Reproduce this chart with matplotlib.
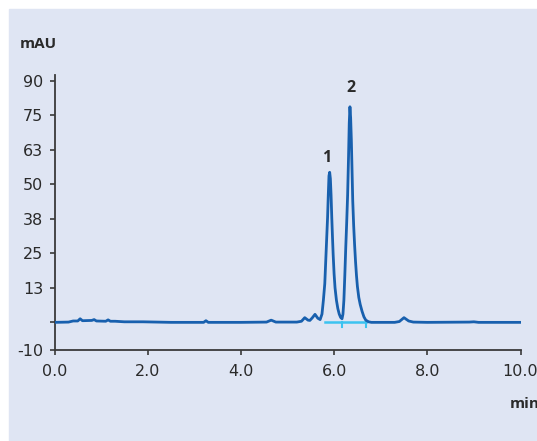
import matplotlib.pyplot as plt
from matplotlib.patches import Rectangle

# chromatogram (time in min, signal in mAU)
time_min = [0.0, 0.3, 0.4, 0.5, 0.55, 0.6, 0.8, 0.85, 0.9, 1.1, 1.15, 1.2, 1.3,
            1.5, 1.9, 2.5, 3.2, 3.25, 3.3, 4.0, 4.55, 4.65, 4.75, 5.2, 5.3,
            5.37, 5.44, 5.48, 5.53, 5.59, 5.65, 5.70,
            5.74, 5.77, 5.80, 5.82, 5.84, 5.86, 5.875, 5.89, 5.905, 5.92,
            5.935, 5.95, 5.965, 5.98, 6.00, 6.02, 6.05, 6.08, 6.11, 6.14, 6.17,
            6.19, 6.21, 6.23, 6.25, 6.27, 6.29, 6.31, 6.325, 6.34, 6.355, 6.37,
            6.385, 6.40, 6.42, 6.44, 6.46, 6.48, 6.50, 6.53, 6.56, 6.60, 6.64,
            6.68, 6.74, 6.80,
            7.3, 7.4, 7.5, 7.6, 7.7, 8.0, 8.9, 9.0, 9.1, 10.0]
signal = [0.0, 0.1, 0.5, 0.5, 1.3, 0.6, 0.7, 1.0, 0.5, 0.4, 0.9, 0.4, 0.4,
          0.2, 0.2, 0.0, 0.0, 0.6, 0.0, 0.0, 0.1, 0.8, 0.1, 0.1, 0.4,
          1.7, 0.8, 0.7, 1.6, 2.9, 1.5, 1.0,
          3.0, 8.0, 14.0, 22.0, 30.0, 38.0, 46.0, 53.0, 54.3, 52.0,
          46.0, 38.0, 31.0, 24.5, 17.5, 12.5, 8.0, 5.0, 3.0, 1.8, 1.3,
          3.0, 8.0, 17.0, 27.0, 36.0, 46.0, 60.0, 72.0, 78.0, 74.0, 66.0,
          55.0, 44.0, 35.0, 28.0, 22.0, 17.0, 13.0, 9.0, 6.5, 4.0, 2.0,
          0.8, 0.2, 0.0,
          0.0, 0.3, 1.7, 0.5, 0.1, 0.0, 0.1, 0.2, 0.0, 0.0]

# integration baseline and its drop marks
base_t = [5.80, 6.68]
base_y = [0.0, 0.0]
drop_t = [6.17, 6.68]

peak_labels = ["1", "2"]
peak_label_t = [5.85, 6.36]
peak_label_y = [59.4, 84.8]

yticks = [-10, 0, 12.5, 25, 37.5, 50, 62.5, 75, 87.5]
ytick_labels = ["-10", "", "13", "25", "38", "50", "63", "75", "90"]
xticks = [0, 2, 4, 6, 8, 10]
xtick_labels = ["0.0", "2.0", "4.0", "6.0", "8.0", "10.0"]

plt.rcParams["font.family"] = ["Open Sans", "DejaVu Sans"]

W, H = 537, 441
fig = plt.figure(figsize=(W / 100, H / 100), dpi=100)
fig.patch.set_facecolor("white")
fig.patches.append(Rectangle((9 / W, 0), 1 - 9 / W, 1 - 9 / H,
                             transform=fig.transFigure, color="#dfe5f3",
                             zorder=-10))

ax = fig.add_axes([54.5 / W, 1 - 350 / H, 466 / W, 275 / H])
ax.set_facecolor("none")
ax.set_zorder(5)

ax.plot(base_t, base_y, color="#3cc3f0", lw=1.8, zorder=2)
for t in drop_t:
    ax.plot([t, t], [0, -1.6], color="#3cc3f0", lw=1.5, zorder=2)
ax.plot(time_min, signal, color="#1860ae", lw=2.0, solid_joinstyle="round",
        zorder=3)

for lab, t, y in zip(peak_labels, peak_label_t, peak_label_y):
    ax.text(t, y, lab, ha="center", va="center", fontsize=11.5,
            fontweight="bold", color="#2a2a2a")

ax.set_xlim(0, 10)
ax.set_ylim(-10, 89.5)
ax.set_xticks(xticks)
ax.set_xticklabels(xtick_labels)
ax.set_yticks(yticks)
ax.set_yticklabels(ytick_labels)

for side in ["top", "right"]:
    ax.spines[side].set_visible(False)
for side in ["left", "bottom"]:
    ax.spines[side].set_color("#3a3a3a")
    ax.spines[side].set_linewidth(1.3)
ax.tick_params(direction="out", length=3.6, width=1.2, color="#3a3a3a",
               labelsize=11.5, labelcolor="#2a2a2a")
ax.tick_params(axis="x", pad=6.5)
ax.tick_params(axis="y", pad=4.5)
for lab in ax.get_xticklabels() + ax.get_yticklabels():
    lab.set_family("DejaVu Sans")

fig.text(20 / W, 1 - 48 / H, "mAU", fontsize=11, fontweight="bold",
         color="#2a2a2a", va="baseline")
fig.text(510 / W, 1 - 408 / H, "min", fontsize=11, fontweight="bold",
         color="#2a2a2a", va="baseline")

fig.savefig("out.png", dpi=100)
